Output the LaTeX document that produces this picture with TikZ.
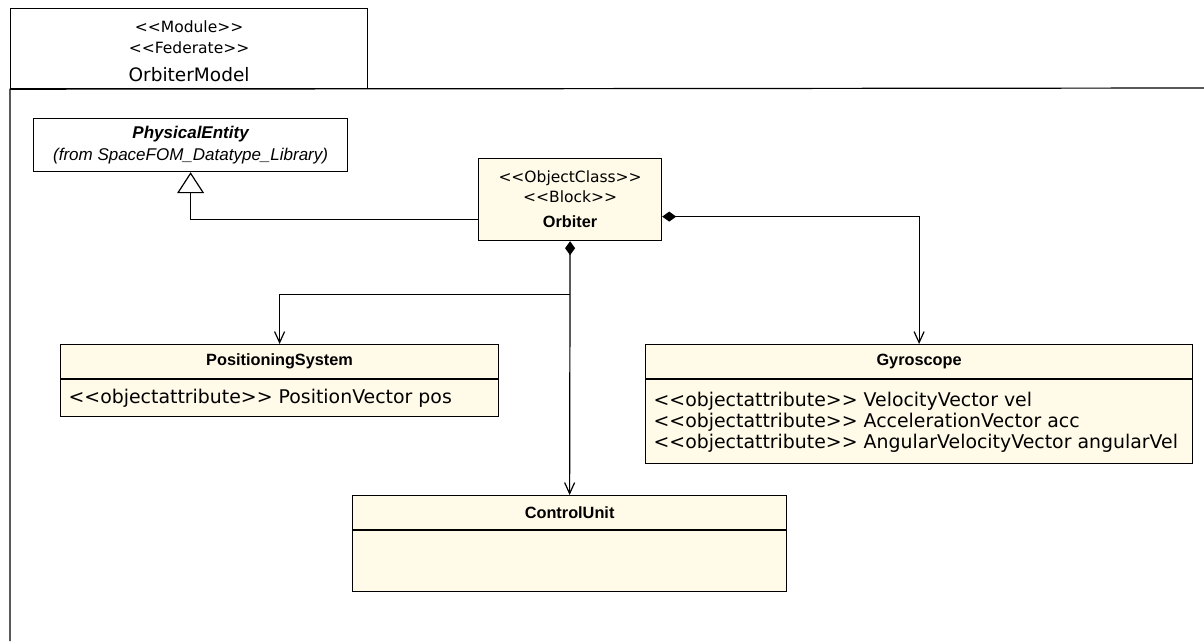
\documentclass[tikz,border=0pt]{standalone}
\usepackage{fontspec}
\setmainfont{Liberation Sans}
\newfontfamily\lucida{DejaVu Sans}
\usetikzlibrary{arrows.meta,positioning}
\definecolor{classfill}{RGB}{255,251,232}
\newcommand{\stereo}[1]{<{}<#1>{}>}

\begin{document}
\begin{tikzpicture}[x=1pt,y=-1pt,line width=1.2pt,
  classhead/.style={draw,fill=classfill,anchor=north west,minimum height=34pt,inner sep=0pt,font=\fontsize{16.3}{18}\selectfont\bfseries},
  classattr/.style={draw,fill=classfill,inner xsep=8pt,inner ysep=0pt,align=flush left,font=\lucida\fontsize{18.9}{21}\selectfont},
  owns/.style={{Diamond[length=14pt,width=10pt]}-{Straight Barb[length=11pt,width=10pt]}},
  navig/.style={-{Straight Barb[length=11pt,width=10pt]}},
  inherits/.style={-{Triangle[open,length=21pt,width=27pt]}}
]
\useasboundingbox (0,0) rectangle (1204,641);

\node[draw,anchor=north west,minimum width=357pt,minimum height=80pt] (tab) at (10,8) {};
\node[align=center,inner sep=0pt,font=\lucida\fontsize{15.5}{21}\selectfont] (tablabel) at ([yshift=-3pt]tab.center)
  {\stereo{Module}\\\stereo{Federate}\\[7pt]{\fontsize{18.5}{20}\selectfont OrbiterModel}};
\coordinate (frameright) at (1204,88);
\coordinate (framebottom) at (10,641);
\draw (framebottom) -- (tab.south west) -- (frameright);

\node[draw,anchor=north west,minimum width=314pt,minimum height=53pt,inner sep=0pt,align=center,font=\fontsize{17}{22}\selectfont] (physent) at (33,118)
  {\bfseries\itshape PhysicalEntity\\\itshape (from SpaceFOM\_Datatype\_Library)};

\node[draw,fill=classfill,anchor=north west,minimum width=183pt,minimum height=82pt,inner sep=0pt,align=center,font=\lucida\fontsize{15.5}{20}\selectfont] (orbiter) at (478,158)
  {\stereo{ObjectClass}\\\stereo{Block}\\[5pt]{\rmfamily\bfseries\fontsize{16.3}{18}\selectfont Orbiter}};

\node[classhead,minimum width=438pt] (possys) at (60,344) {PositioningSystem};
\node[classattr,below=0pt of possys,minimum width=438pt,minimum height=37pt,text width=422pt] (possysattr)
  {\stereo{objectattribute} PositionVector pos};

\node[classhead,minimum width=547pt] (gyro) at (645,344) {Gyroscope};
\node[classattr,below=0pt of gyro,minimum width=547pt,minimum height=84pt,text width=531pt] (gyroattr)
  {\stereo{objectattribute} VelocityVector vel\\
   \stereo{objectattribute} AccelerationVector acc\\
   \stereo{objectattribute} AngularVelocityVector angularVel};

\node[classhead,minimum width=434pt] (ctrl) at (352,495) {ControlUnit};
\node[classattr,below=0pt of ctrl,minimum width=434pt,minimum height=61pt,text width=418pt] (ctrlattr) {};

\coordinate[below=53pt of orbiter.south] (branch);
\draw[inherits] ([yshift=-20pt]orbiter.west) -| (physent.south);
\draw[owns] ([yshift=-17pt]orbiter.east) -| (gyro.north);
\draw[owns] (orbiter.south) -- (ctrl.north);
\draw[navig] (branch) -| (possys.north);
\end{tikzpicture}
\end{document}
